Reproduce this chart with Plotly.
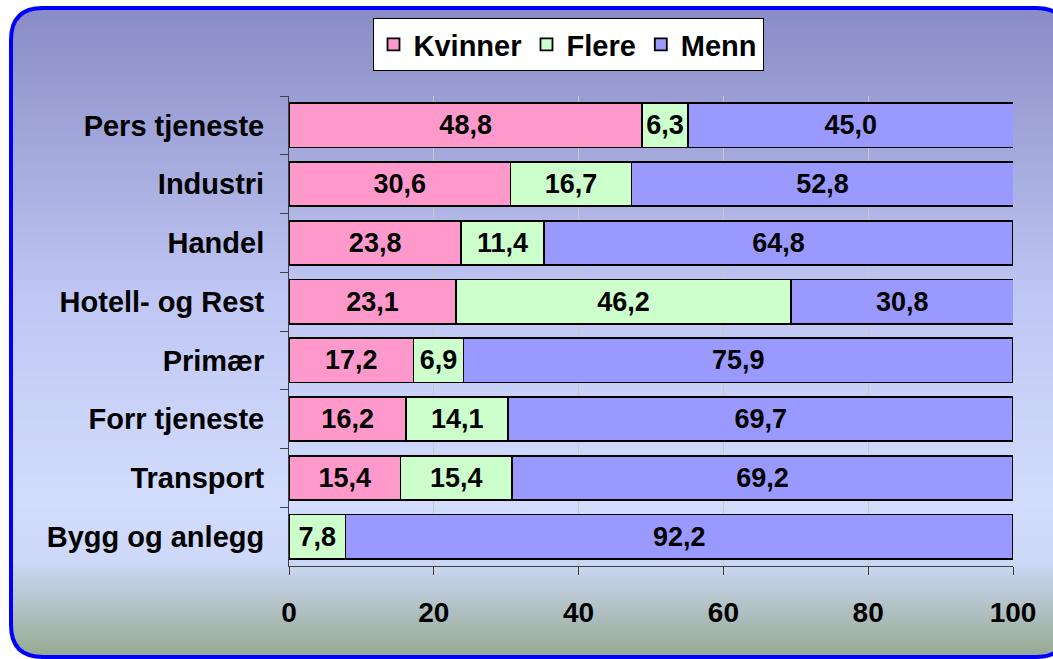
import math
import plotly.graph_objects as go

categories = ["Pers tjeneste", "Industri", "Handel", "Hotell- og Rest", "Primær",
              "Forr tjeneste", "Transport", "Bygg og anlegg"]
kvinner = [48.8, 30.6, 23.8, 23.1, 17.2, 16.2, 15.4, 0.0]
flere = [6.3, 16.7, 11.4, 46.2, 6.9, 14.1, 15.4, 7.8]
menn = [45.0, 52.8, 64.8, 30.8, 75.9, 69.7, 69.2, 92.2]
x_ticks = [0, 20, 40, 60, 80, 100]

series = [("Kvinner", kvinner, "#ff99cc"), ("Flere", flere, "#ccffcc"), ("Menn", menn, "#9999ff")]

W, H = 1053, 659
L, R, T, B = 289, 40, 96, 93
pw, ph = W - L - R, H - T - B

def px2x(px):  # page px -> paper
    return (px - L) / pw

def py2y(py):
    return (H - B - py) / ph

FONT = "Liberation Sans, Arial, sans-serif"

fig = go.Figure()
for name, vals, col in series:
    labels = [("%.1f" % v).replace(".", ",") if v > 0 else "" for v in vals]
    fig.add_trace(go.Bar(
        name=name, y=categories, x=vals, orientation="h",
        marker=dict(color=col, line=dict(color="black", width=1.8)),
        text=labels, textposition="inside", insidetextanchor="middle", textangle=0,
        textfont=dict(family=FONT, size=27, color="black", weight="bold"),
        hoverinfo="skip",
    ))

# gradient background inside a rounded frame (page coords)
x0f, x1f, y0f, y1f, rad = 11, 1068, 8, 657, 32

def grad_color(py):
    stops = [(0, (136, 138, 196)), (300, (192, 199, 244)), (500, (210, 220, 252)),
             (560, (206, 216, 248)), (659, (148, 168, 142))]
    for (a, ca), (b, cb) in zip(stops, stops[1:]):
        if a <= py <= b:
            t = (py - a) / (b - a)
            return "rgb(%d,%d,%d)" % tuple(round(ca[i] + (cb[i] - ca[i]) * t) for i in range(3))
    return "rgb(148,168,142)"

shapes = []
step = 2
py = y0f
while py < y1f:
    mid = py + step / 2
    inset = 0.0
    if mid < y0f + rad:
        d = y0f + rad - mid
        inset = rad - math.sqrt(max(rad * rad - d * d, 0))
    elif mid > y1f - rad:
        d = mid - (y1f - rad)
        inset = rad - math.sqrt(max(rad * rad - d * d, 0))
    shapes.append(dict(type="rect", xref="paper", yref="paper", layer="below",
                       x0=px2x(x0f + inset), x1=px2x(x1f - inset),
                       y0=py2y(py + step + 0.5), y1=py2y(py),
                       fillcolor=grad_color(mid), line=dict(width=0)))
    py += step

def P(xp, yp):
    return "%f,%f" % (px2x(xp), py2y(yp))

path = ("M " + P(x0f + rad, y0f) + " L " + P(x1f - rad, y0f) +
        " Q " + P(x1f, y0f) + " " + P(x1f, y0f + rad) +
        " L " + P(x1f, y1f - rad) + " Q " + P(x1f, y1f) + " " + P(x1f - rad, y1f) +
        " L " + P(x0f + rad, y1f) + " Q " + P(x0f, y1f) + " " + P(x0f, y1f - rad) +
        " L " + P(x0f, y0f + rad) + " Q " + P(x0f, y0f) + " " + P(x0f + rad, y0f) + " Z")
shapes.append(dict(type="path", xref="paper", yref="paper", layer="below", path=path,
                   line=dict(color="#0000ff", width=4), fillcolor="rgba(0,0,0,0)"))

fig.update_layout(
    width=W, height=H,
    margin=dict(l=L, r=R, t=T, b=B, pad=0),
    barmode="stack", bargap=0.25,
    paper_bgcolor="white", plot_bgcolor="#ffffcc",
    shapes=shapes,
    font=dict(family=FONT, size=28, color="black", weight="bold"),
    showlegend=True,
    legend=dict(orientation="h", x=px2x(568), xanchor="center", y=py2y(18), yanchor="top",
                bgcolor="white", bordercolor="black", borderwidth=1,
                font=dict(family=FONT, size=29, color="black", weight="bold"),
                traceorder="normal", itemwidth=30, tracegroupgap=0),
    uniformtext=dict(mode="show", minsize=27),
    xaxis=dict(range=[0, 100], tickvals=x_ticks, ticktext=[str(v) for v in x_ticks],
               showgrid=True, gridcolor="#c8c8c8", gridwidth=1,
               showline=True, linecolor="#404040", linewidth=1,
               ticks="outside", ticklen=8, tickcolor="#404040",
               ticklabelstandoff=13, zeroline=False,
               tickfont=dict(family=FONT, size=28, color="black", weight="bold")),
    yaxis=dict(autorange="reversed", showline=True, linecolor="#404040", linewidth=1,
               ticks="outside", ticklen=8, tickcolor="#404040", tickson="boundaries",
               ticklabelstandoff=18, showgrid=False,
               tickfont=dict(family=FONT, size=29, color="black", weight="bold")),
)

fig.write_html(
    "out.html",
    config={"displayModeBar": False},
    post_script="document.body.style.margin='0';document.body.style.overflow='hidden';",
)
